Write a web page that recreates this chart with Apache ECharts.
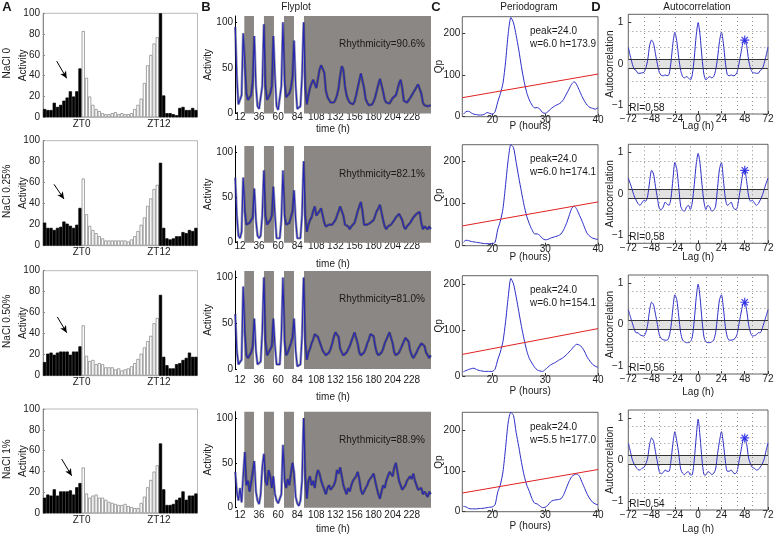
<!DOCTYPE html>
<html>
<head>
<meta charset="utf-8">
<script src="https://cdn.jsdelivr.net/npm/echarts@6.0.0/dist/echarts.min.js"></script>
<style>
html,body{margin:0;padding:0;background:#fff;}
#chart{width:777px;height:535px;}
</style>
</head>
<body>
<div id="chart"></div>
<script>
// ================= DATA =================
// Panel A: mean activity in 30-min bins, ZT18 -> ZT18 (48 bins); first 12 and last 12 bins are night
const aLabels = ['NaCl 0', 'NaCl 0.25%', 'NaCl 0.50%', 'NaCl 1%'];
const aNaCl0   = [8,7,7,14,10,12,16,19,25,20,25,47, 83,38,20,12,8,6,4,3,3,4,5,3,4,3,3,4,8,12,18,33,50,60,71,77, 100,21,4,4,3,2,9,10,7,7,9,7];
const aNaCl025 = [22,17,17,15,17,18,23,21,19,17,20,36, 64,30,19,15,12,9,7,5,5,5,5,5,5,5,4,6,9,14,20,27,38,45,54,58, 79,17,7,6,7,9,9,13,12,15,14,17];
const aNaCl050 = [13,21,22,20,22,23,23,23,20,23,23,28, 48,19,14,15,11,12,11,8,8,8,6,7,5,6,7,9,12,16,21,27,33,38,50,55, 77,18,10,7,7,11,12,15,17,22,18,18];
const aNaCl1   = [15,18,17,23,17,21,21,21,22,18,25,29, 44,19,15,17,18,15,15,13,11,10,9,8,8,9,7,6,5,5,10,16,25,32,40,46, 67,23,8,8,9,13,15,21,13,17,17,19];
const aNightBefore = 12, aNightAfter = 12;
const aTickBins = [12, 36];
const aTickLabels = ['ZT0', 'ZT12'];
// arrow annotations [x1,y1,x2,y2] in bin / activity units
const aArrows = [[4.25,54,7.36,37.5],[3.42,58.5,6.52,44.5],[4.44,56,7.36,41],[5.81,52,8.91,36]];

// Panel B: Flyplot activity, one value every 2 h starting at t = 6 h
const flyStart = 6, flyStep = 2;
const flyNaCl0 = [95,40,10,8,20,88,55,22,15,15,20,35,85,30,8,5,5,30,98,30,15,18,22,30,85,40,8,4,5,30,100,35,18,20,22,28,40,80,30,5,5,8,40,100,30,
  10,20,28,33,37,35,28,38,48,53, 55,45,25,18,15,12,10,12,15,20, 28,42,52,48,30,20,15,12,10,10, 13,20,28,36,44,42,28,16,12,9,
  8,10,13,18,25,32,38,38,24,15, 12,10,11,14,17,18,20,26,33,37, 28,14,12,12,14,17,20,23,26,29, 32,33,22,12,9,10,8,10,9];
const flyNaCl025 = [72,30,8,5,12,72,35,20,18,22,20,28,60,25,8,5,8,30,80,30,20,22,25,30,62,30,5,3,5,25,80,30,20,22,22,28,35,58,25,5,3,5,30,90,30,
  12,20,25,28,35,40,30,28,35,38, 36,22,18,20,20,22,20,22,25,30, 35,40,42,30,20,18,18,15,18,20, 22,28,35,40,45,35,20,18,20,20,
  22,22,25,30,35,38,42,40,25,18, 15,18,20,20,22,25,28,30,32,34, 25,18,15,18,20,22,25,28,30,32, 33,34,22,15,18,20,15,18,15];
const flyNaCl050 = [60,20,5,3,10,90,40,15,12,15,18,25,55,20,5,3,8,40,100,30,15,18,20,25,55,25,5,3,5,35,100,30,15,18,20,28,35,55,20,3,2,5,35,100,30,
  10,18,22,28,32,38,40,35,30,25, 20,18,15,15,18,22,28,35,40,42, 35,22,18,15,15,18,20,25,30,35, 40,38,28,18,15,15,18,22,28,32,
  38,40,36,25,18,15,15,18,22,28, 32,36,40,38,28,18,15,15,18,22, 26,30,34,36,30,20,15,12,15,18, 22,25,28,30,25,18,15,12,15];
const flyNaCl1 = [40,18,8,22,6,35,62,25,30,18,28,40,52,18,8,4,15,45,60,30,25,42,35,22,35,15,8,5,3,15,70,30,22,32,25,38,50,40,12,5,2,8,30,100,35,
  10,30,35,25,30,22,35,42,38,30, 28,20,15,22,25,20,18,25,30,42, 38,45,35,25,20,15,22,18,25,30, 28,35,40,32,20,15,18,22,25,30,
  28,35,38,30,22,15,10,18,25,22, 30,35,40,42,35,45,50,40,30,25, 20,22,25,30,28,35,32,38,30,25, 20,18,22,15,18,20,12,18,15];
const flyTicks = [12,36,60,84,108,132,156,180,204,228];
const flyDark = [[17.4,29.6],[42.1,54.7],[67.3,79.9],[92.5,252.2]];
const flyRhythm = ['90.6%','82.1%','81.0%','88.9%'];

// Panel C: periodogram Qp versus period P (hours)
const perP = [14.5,15,15.5,16,16.5,17,17.5,18,18.5,19,19.5,20,20.5,21,21.5,22,22.5,23,23.5,24,24.5,25,25.5,26,26.5,27,27.5,28,28.5,29,29.5,30,30.5,31,31.5,32,32.5,33,33.5,34,34.5,35,35.5,36,36.5,37,37.5,38,38.5,39,39.5,40];
const perNaCl0   = [6,12,13,9,6,5,4,4,6,10,8,6,12,35,55,80,132,200,238,225,195,160,120,85,58,40,28,21,22,18,10,8,12,18,23,27,30,34,42,54,66,78,84,76,62,48,36,27,22,20,18,22];
const perNaCl025 = [8,13,12,10,9,8,7,6,5,5,5,5,8,38,58,88,145,205,240,233,198,162,128,96,70,52,38,28,28,24,17,14,15,18,20,22,24,28,38,52,70,88,94,86,72,58,42,28,22,18,16,15];
const perNaCl050 = [9,12,14,16,17,14,12,11,10,10,10,10,15,35,52,75,118,172,212,200,172,140,108,80,55,38,28,19,13,11,10,14,19,24,27,30,34,37,41,46,52,58,65,69,67,62,52,40,32,25,21,19];
const perNaCl1   = [13,12,8,7,7,7,8,8,9,10,11,12,17,48,66,98,158,221,245,237,195,160,122,90,66,50,32,21,19,14,10,11,16,24,28,29,30,32,42,58,74,86,91,93,87,72,57,42,31,23,19,17];
const perSig = [[45.6,102.4],[47,104],[47,103],[46,104]];   // significance line: Qp at left / right edge
const perYMax = [240,240,218,245];
const perPeak = ['24.0','24.0','24.0','24.0'];
const perW = ['6.0','6.0','6.0','5.5'];
const perH = ['173.9','174.1','154.1','177.0'];

// Panel D: autocorrelation, lag -72..72 h every 2 h
const acLagStart = -72, acLagStep = 2;
const acNaCl0 = [0.41,0.2,0.02,-0.12,-0.15,-0.22,-0.22,-0.21,-0.2,-0.1,0.1,0.45,0.58,0.5,0.25,0.0,-0.2,-0.27,-0.28,-0.26,-0.28,-0.25,0.05,0.5,0.77,0.55,0.15,-0.15,-0.3,-0.33,-0.3,-0.33,-0.38,-0.25,0.15,0.69,
  1.0,
  0.69,0.15,-0.25,-0.38,-0.33,-0.3,-0.33,-0.3,-0.15,0.15,0.55,0.77,0.5,0.05,-0.25,-0.28,-0.26,-0.28,-0.27,-0.2,0.0,0.25,0.5,0.58,0.45,0.1,-0.1,-0.2,-0.21,-0.22,-0.22,-0.15,-0.12,0.02,0.2,0.41];
const acNaCl025 = [0.38,0.25,0.1,-0.05,-0.15,-0.24,-0.28,-0.22,-0.16,-0.18,-0.05,0.3,0.57,0.48,0.18,-0.1,-0.36,-0.38,-0.32,-0.2,-0.25,-0.28,-0.1,0.35,0.76,0.6,0.15,-0.3,-0.4,-0.42,-0.32,-0.28,-0.38,-0.2,0.22,0.72,
  0.98,
  0.72,0.22,-0.2,-0.38,-0.28,-0.32,-0.42,-0.4,-0.3,0.15,0.6,0.76,0.35,-0.1,-0.28,-0.25,-0.2,-0.32,-0.38,-0.36,-0.1,0.18,0.48,0.57,0.3,-0.05,-0.18,-0.16,-0.22,-0.28,-0.24,-0.15,-0.05,0.1,0.25,0.38];
const acNaCl050 = [0.36,0.2,0.05,-0.1,-0.2,-0.2,-0.25,-0.27,-0.28,-0.2,0.0,0.35,0.54,0.48,0.25,0.0,-0.25,-0.34,-0.37,-0.38,-0.38,-0.3,-0.05,0.4,0.72,0.6,0.2,-0.2,-0.38,-0.42,-0.44,-0.44,-0.42,-0.3,0.1,0.65,
  0.98,
  0.65,0.1,-0.3,-0.42,-0.44,-0.44,-0.42,-0.38,-0.2,0.2,0.6,0.72,0.4,-0.05,-0.3,-0.38,-0.38,-0.37,-0.34,-0.25,0.0,0.25,0.48,0.54,0.35,0.0,-0.2,-0.28,-0.27,-0.25,-0.2,-0.2,-0.1,0.05,0.2,0.36];
const acNaCl1 = [0.41,0.22,0.02,-0.1,-0.17,-0.23,-0.24,-0.2,-0.18,-0.1,0.05,0.38,0.53,0.45,0.2,-0.05,-0.28,-0.33,-0.3,-0.24,-0.27,-0.27,-0.02,0.4,0.68,0.45,0.15,-0.22,-0.32,-0.35,-0.3,-0.28,-0.36,-0.35,0.0,0.55,
  0.98,
  0.55,0.0,-0.35,-0.36,-0.28,-0.3,-0.35,-0.32,-0.22,0.15,0.45,0.68,0.4,-0.02,-0.27,-0.27,-0.24,-0.3,-0.33,-0.28,-0.05,0.2,0.45,0.53,0.38,0.05,-0.1,-0.18,-0.2,-0.24,-0.23,-0.17,-0.1,0.02,0.22,0.41];
const acStar = [[48,0.58],[48,0.57],[48,0.54],[48,0.53]];
const acRI = ['0.58','0.58','0.56','0.54'];
const acBand = 0.11;
const acGridX = [-56,-40,-24,-8,8,24,40,56];
const acGridY = [-0.8,-0.4,0.4,0.8];

// ================= LAYOUT =================
const FONT = '"Liberation Sans", Arial, sans-serif';
const TXT = '#1a1a1a';
const rowsA = [[13.3,117.3],[140.7,245.7],[270.7,375.7],[409,513.3]];
const colA = [43,197.5];
const rowsB = [[16,113.5],[146,242.7],[271,369],[411.7,507.7]];
const colB = [235,431];
const bLabelMargin = [-1,-1,6,2.5];
const bNameY = [129.3,264,397,529];
const flyMin = 5.7, flyMax = 252.2;
const rowsC = [[16.7,116.7],[144.7,245.7],[275.7,376],[412.3,511.7]];
const colC = [462.3,598];
const cNameY = [126,257.7,391,526.7];
const perMin = 14.3, perMax = 40;
const rowsD = [[14.3,114],[144.3,243.3],[275,374],[410,510]];
const colD = [628.3,768];
const dNameY = [126.7,257.7,392,529];

const grids = [], xAxis = [], yAxis = [], series = [], graphic = [];
function addGrid(col, row, extra) {
  grids.push(Object.assign({left: col[0], top: row[0], width: col[1]-col[0], height: row[1]-row[0]}, extra || {}));
  return grids.length - 1;
}
function text(x, y, s, o) {
  o = o || {};
  graphic.push({type:'text', x:x, y:y, rotation:o.rot||0, silent:true, z:100,
    style:{text:s, fill:o.color||TXT, font:(o.bold?'bold ':'')+(o.size||10)+'px '+FONT,
      align:o.align||'center', verticalAlign:o.va||'middle'}});
}
const lbl = (extra) => Object.assign({fontSize:10, color:TXT, fontFamily:FONT}, extra||{});
const minus = v => String(v).replace('-', '\u2212');
const ROT = Math.PI/2;
const dotted = {color:'#8e8e8e', type:[1,3], width:1};

// ---------- A ----------
[aNaCl0, aNaCl025, aNaCl050, aNaCl1].forEach((vals, r) => {
  const row = rowsA[r];
  const g = addGrid(colA, row, {show:true, borderColor:'#b8b8b8', borderWidth:1});
  const bw = (colA[1]-colA[0]) / vals.length;
  xAxis.push({gridIndex:g, type:'value', min:0, max:vals.length,
    axisLine:{show:false, onZero:false}, axisTick:{show:false}, splitLine:{show:false},
    axisLabel: lbl({customValues:aTickBins, formatter:v => aTickLabels[aTickBins.indexOf(v)], margin:2})});
  yAxis.push({gridIndex:g, type:'value', min:0, max:100, interval:20,
    axisLine:{show:true, onZero:false, lineStyle:{color:'#8a8a8a'}}, axisTick:{show:true, inside:true, length:2, lineStyle:{color:'#8a8a8a'}},
    splitLine:{show:false}, axisLabel: lbl({margin:3})});
  series.push({type:'bar', xAxisIndex:g, yAxisIndex:g, barWidth:bw, animation:false,
    data: vals.map((v, i) => {
      const night = i < aNightBefore || i >= vals.length - aNightAfter;
      return {value:[i+0.5, v], itemStyle: night ? {color:'#000', borderColor:'#000', borderWidth:0.7}
                                                 : {color:'#fff', borderColor:'#8c8c8c', borderWidth:0.8}};
    }),
    markLine:{silent:true, symbol:['none','arrow'], symbolSize:[5,7], label:{show:false}, animation:false,
      lineStyle:{color:'#000', width:1, type:'solid'},
      data:[[{coord:[aArrows[r][0], aArrows[r][1]]}, {coord:[aArrows[r][2], aArrows[r][3]]}]]}
  });
  const cy = (row[0]+row[1])/2;
  text(7.5, cy - 2, aLabels[r], {rot:ROT});
  text(23, cy, 'Activity', {rot:ROT});
});

// ---------- B ----------
[flyNaCl0, flyNaCl025, flyNaCl050, flyNaCl1].forEach((vals, r) => {
  const row = rowsB[r];
  const g = addGrid(colB, row);
  xAxis.push({gridIndex:g, type:'value', min:flyMin, max:flyMax,
    axisLine:{show:false, onZero:false}, axisTick:{show:false}, splitLine:{show:false},
    axisLabel: lbl({customValues:flyTicks, margin:bLabelMargin[r]})});
  yAxis.push({gridIndex:g, type:'value', min:0, max:107,
    axisLine:{show:true, onZero:false, lineStyle:{color:'#000'}},
    axisTick:{show:true, inside:true, length:2, customValues:[0,50,100], lineStyle:{color:'#000'}},
    splitLine:{show:false}, axisLabel: lbl({customValues:[0,50,100], margin:2})});
  const pts = vals.map((v, i) => [flyStart + i*flyStep, v]);
  // dark error envelope under the mean trace
  series.push({type:'line', xAxisIndex:g, yAxisIndex:g, symbol:'none', showSymbol:false, animation:false, silent:true,
    lineStyle:{color:'rgba(25,25,60,0.45)', width:2.6}, data: pts,
    markArea:{silent:true, itemStyle:{color:'#8b8785'}, data: flyDark.map(d => [{xAxis:d[0]}, {xAxis:d[1]}])}
  });
  series.push({type:'line', xAxisIndex:g, yAxisIndex:g, symbol:'none', showSymbol:false, animation:false,
    lineStyle:{color:'#2626b8', width:1.1}, data: pts});
  text((colB[0]+colB[1])/2, bNameY[r], 'time (h)');
  text(208, (row[0]+row[1])/2, 'Activity', {rot:ROT});
  text(382, row[0]+28.5, 'Rhythmicity=' + flyRhythm[r]);
});

// ---------- C ----------
[perNaCl0, perNaCl025, perNaCl050, perNaCl1].forEach((vals, r) => {
  const row = rowsC[r];
  const g = addGrid(colC, row, {show:true, borderColor:'#3a3a3a', borderWidth:0.8});
  xAxis.push({gridIndex:g, type:'value', min:perMin, max:perMax,
    axisLine:{show:false, onZero:false}, splitLine:{show:false},
    axisTick:{show:true, inside:true, length:3, customValues:[20,30,40], lineStyle:{color:'#3a3a3a'}},
    axisLabel: lbl({customValues:[20,30,40], margin:-1})});
  yAxis.push({gridIndex:g, type:'value', min:0, max:perYMax[r],
    axisLine:{show:false, onZero:false}, splitLine:{show:false},
    axisTick:{show:true, inside:true, length:3, customValues:[0,100,200], lineStyle:{color:'#3a3a3a'}},
    axisLabel: lbl({customValues:[0,100,200], margin:2})});
  series.push({type:'line', xAxisIndex:g, yAxisIndex:g, symbol:'none', animation:false, smooth:0.25,
    lineStyle:{color:'#2d2dc8', width:1}, data: perP.map((p, i) => [p, vals[i]])});
  series.push({type:'line', xAxisIndex:g, yAxisIndex:g, symbol:'none', animation:false,
    lineStyle:{color:'#e02222', width:1}, data: [[perMin, perSig[r][0]], [perMax, perSig[r][1]]]});
  text(530, row[0]+15, 'peak=' + perPeak[r], {align:'left'});
  text(530, row[0]+28, 'w=' + perW[r] + ' h=' + perH[r], {align:'left'});
  text((colC[0]+colC[1])/2, cNameY[r], 'P (hours)');
  text(439, (row[0]+row[1])/2, 'Qp', {rot:ROT});
});

// ---------- D ----------
[acNaCl0, acNaCl025, acNaCl050, acNaCl1].forEach((vals, r) => {
  const row = rowsD[r];
  const g = addGrid(colD, row, {show:true, borderColor:'#3a3a3a', borderWidth:0.8});
  xAxis.push({gridIndex:g, type:'value', min:-72, max:72, interval:24,
    axisLine:{show:false, onZero:false},
    axisTick:{show:true, inside:true, length:3, lineStyle:{color:'#3a3a3a'}},
    splitLine:{show:false},
    axisLabel: lbl({formatter:minus, margin:0})});
  yAxis.push({gridIndex:g, type:'value', min:-1.2, max:1.2,
    axisLine:{show:false, onZero:false},
    axisTick:{show:true, inside:true, length:3, customValues:[-1,0,1], lineStyle:{color:'#3a3a3a'}},
    splitLine:{show:false},
    axisLabel: lbl({customValues:[-1,0,1], formatter:minus, margin:5})});
  // dotted grid
  series.push({type:'line', xAxisIndex:g, yAxisIndex:g, symbol:'none', animation:false, silent:true, data:[], z:1,
    markLine:{silent:true, symbol:'none', label:{show:false}, animation:false, lineStyle:dotted,
      data: acGridX.map(v => ({xAxis:v})).concat(acGridY.map(v => ({yAxis:v})))}});
  series.push({type:'line', xAxisIndex:g, yAxisIndex:g, symbol:'none', animation:false, smooth:0.25, z:3,
    lineStyle:{color:'#2d2dc8', width:1},
    data: vals.map((v, i) => [acLagStart + i*acLagStep, v]),
    markArea:{silent:true, itemStyle:{color:'#e2e2e2'}, data:[[{yAxis:-acBand}, {yAxis:acBand}]]},
    markLine:{silent:true, symbol:'none', label:{show:false}, animation:false,
      lineStyle:{color:'#333', width:1, type:'solid'}, data:[{yAxis:-acBand}, {yAxis:acBand}]}
  });
  series.push({type:'scatter', xAxisIndex:g, yAxisIndex:g, animation:false, z:5,
    symbol:'path://M10,0L10,20M0,10L20,10M3,3L17,17M3,17L17,3', symbolSize:9,
    itemStyle:{color:'none', borderColor:'#1414e6', borderWidth:1.2}, data:[acStar[r]]});
  text(colD[0]+1, row[1]-6, 'RI=' + acRI[r], {align:'left'});
  text((colD[0]+colD[1])/2, dNameY[r], 'Lag (h)');
  text(610, (row[0]+row[1])/2, 'Autocorrelation', {rot:ROT});
});

// ---------- titles & letters ----------
text(296, 7.5, 'Flyplot');
text(529, 7.5, 'Periodogram');
text(697, 7.5, 'Autocorrelation');
text(7, 7, 'A', {bold:true, size:13});
text(206, 7, 'B', {bold:true, size:13});
text(436, 7, 'C', {bold:true, size:13});
text(596, 7, 'D', {bold:true, size:13});

const chart = echarts.init(document.getElementById('chart'), null, {renderer:'canvas'});
chart.setOption({animation:false, backgroundColor:'#fff', grid:grids, xAxis:xAxis, yAxis:yAxis, series:series, graphic:graphic});
</script>
</body>
</html>
